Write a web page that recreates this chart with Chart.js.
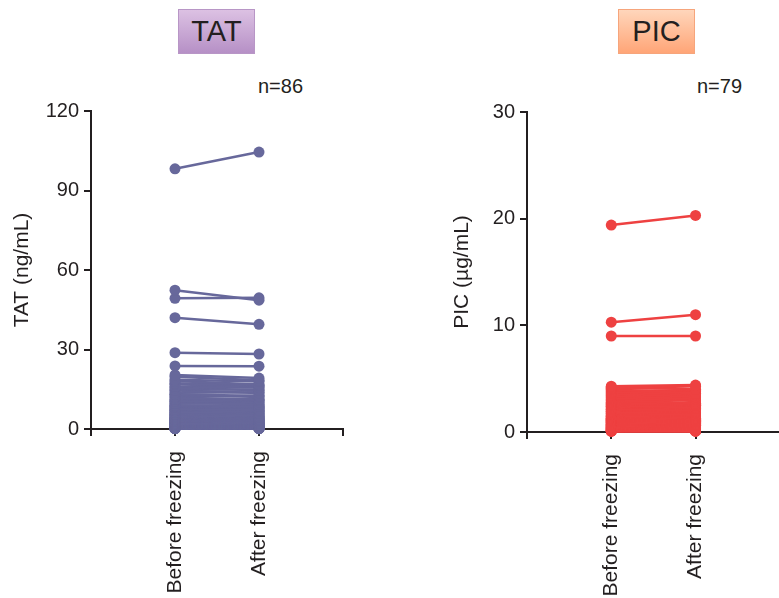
<!DOCTYPE html>
<html>
<head>
<meta charset="utf-8">
<script src="https://cdn.jsdelivr.net/npm/chart.js@4"></script>
<style>
  body { margin: 0; background: #fff; }
  #wrap { position: relative; width: 779px; height: 598px; overflow: hidden; font-family: 'Liberation Sans', Arial, sans-serif; color: #231f20; }
  canvas { position: absolute; top: 0; }
  .box { position: absolute; top: 9px; width: 77px; height: 45px; box-sizing: border-box; font-size: 29px; line-height: 43px; text-align: center; }
  #tatBox { left: 178px; background: linear-gradient(#dcc1e3, #b690c6); border: 1px solid #b896c6; }
  #picBox { left: 618px; background: linear-gradient(#ffd6bb, #ffa577); border: 1px solid #f6a57c; }
  .n { position: absolute; top: 75px; font-size: 20px; }
</style>
</head>
<body>
<div id="wrap">
  <div class="box" id="tatBox">TAT</div>
  <div class="box" id="picBox">PIC</div>
  <div class="n" style="left:258px">n=86</div>
  <div class="n" style="left:697px">n=79</div>
  <canvas id="tatChart" width="389" height="598" style="left:0"></canvas>
  <canvas id="picChart" width="420" height="598" style="left:400px"></canvas>
</div>
<script>
const groups = ['Before freezing', 'After freezing'];

// TAT (ng/mL), 86 pairs
const tatBefore = [
  98.2, 52.4, 49.3, 42.0, 28.8, 23.8, 20.4, 19.7, 18.6, 18.1,
  17.3, 16.9, 16.0, 15.6, 14.8, 14.5, 13.7, 13.1, 12.9, 12.2,
  11.8, 11.1, 10.7, 10.5, 9.8, 9.6, 9.0, 8.7, 8.5, 8.1,
  7.6, 7.5, 7.0, 6.9, 6.4, 6.3, 5.8, 5.6, 5.5, 5.1,
  4.9, 4.6, 4.4, 4.2, 4.0, 3.8, 3.6, 3.5, 3.3, 3.1,
  3.0, 2.8, 2.7, 2.5, 2.4, 2.3, 2.1, 2.0, 1.9, 1.8,
  1.7, 1.6, 1.5, 1.4, 1.3, 1.2, 1.1, 1.0, 0.9, 0.9,
  0.8, 0.7, 0.7, 0.6, 0.5, 0.5, 0.4, 0.4, 0.3, 0.3,
  0.2, 0.2, 0.2, 0.1, 0.1, 0.1
];
const tatAfter = [
  104.5, 48.6, 49.5, 39.5, 28.3, 23.7, 19.2, 18.4, 17.9, 16.8,
  16.5, 15.9, 15.7, 14.6, 14.9, 13.6, 13.9, 12.5, 12.1, 12.6,
  11.2, 10.9, 10.2, 10.8, 9.3, 9.9, 8.6, 8.9, 8.0, 8.3,
  7.2, 7.8, 6.8, 7.1, 6.1, 6.6, 5.9, 5.3, 5.7, 4.8,
  5.0, 4.3, 4.7, 3.9, 4.1, 3.6, 3.9, 3.2, 3.4, 2.9,
  3.2, 2.6, 2.9, 2.3, 2.6, 2.1, 2.2, 1.8, 2.0, 1.6,
  1.9, 1.4, 1.6, 1.2, 1.4, 1.0, 1.2, 0.9, 1.0, 0.8,
  0.9, 0.6, 0.8, 0.5, 0.6, 0.4, 0.5, 0.3, 0.4, 0.2,
  0.3, 0.2, 0.3, 0.1, 0.2, 0.1
];
const tatTicks = [0, 30, 60, 90, 120];

// PIC (µg/mL), 79 pairs
const picBefore = [
  19.4, 10.3, 9.0, 4.3, 4.2, 4.1, 4.0, 3.9, 3.8, 3.7,
  3.6, 3.5, 3.4, 3.3, 3.2, 3.1, 3.0, 2.9, 2.8, 2.7,
  2.6, 2.5, 2.4, 2.4, 2.3, 2.2, 2.1, 2.1, 2.0, 1.9,
  1.9, 1.8, 1.7, 1.7, 1.6, 1.5, 1.5, 1.4, 1.4, 1.3,
  1.3, 1.2, 1.2, 1.1, 1.1, 1.0, 1.0, 0.9, 0.9, 0.9,
  0.8, 0.8, 0.7, 0.7, 0.7, 0.6, 0.6, 0.6, 0.5, 0.5,
  0.5, 0.4, 0.4, 0.4, 0.3, 0.3, 0.3, 0.3, 0.2, 0.2,
  0.2, 0.2, 0.1, 0.1, 0.1, 0.1, 0.1, 0.1, 0.05
];
const picAfter = [
  20.3, 11.0, 9.0, 4.4, 4.0, 4.3, 3.6, 3.9, 3.5, 3.8,
  3.3, 3.6, 3.1, 3.4, 2.9, 3.2, 2.7, 3.0, 2.6, 2.5,
  2.7, 2.3, 2.5, 2.2, 2.4, 2.0, 2.2, 1.9, 2.1, 1.8,
  2.0, 1.6, 1.8, 1.5, 1.7, 1.4, 1.6, 1.3, 1.5, 1.2,
  1.4, 1.1, 1.3, 1.0, 1.2, 0.9, 1.1, 0.8, 1.0, 0.9,
  0.9, 0.7, 0.8, 0.6, 0.8, 0.5, 0.7, 0.6, 0.6, 0.4,
  0.6, 0.3, 0.5, 0.4, 0.4, 0.2, 0.3, 0.3, 0.2, 0.1,
  0.3, 0.1, 0.2, 0.1, 0.2, 0.05, 0.1, 0.1, 0.1
];
const picTicks = [0, 10, 20, 30];

Chart.defaults.font.family = "'Liberation Sans', Arial, sans-serif";
Chart.defaults.color = '#231f20';

const ink = '#231f20';

function pairSets(before, after, color) {
    return before.map((b, i) => ({
        data: [{x: 1, y: b}, {x: 2, y: after[i]}],
        borderColor: color,
        backgroundColor: color,
        borderWidth: 2.5,
        pointRadius: 5.5,
        pointBorderWidth: 0,
        clip: false,
    }));
}

function makeChart(id, before, after, color, ticks, yTitle, o) {
    const ctx = document.getElementById(id).getContext('2d');
    return new Chart(ctx, {
        type: 'line',
        data: { datasets: pairSets(before, after, color) },
        options: {
            responsive: false,
            animation: false,
            layout: { autoPadding: false, padding: { top: o.top, right: o.right, bottom: 0, left: 0 } },
            plugins: { legend: { display: false }, tooltip: { enabled: false } },
            scales: {
                x: {
                    type: 'linear',
                    min: 0,
                    max: 3,
                    afterBuildTicks: s => { s.ticks = [0, 1, 2, 3].map(v => ({value: v})); },
                    afterFit: s => { s.height = o.xh; },
                    ticks: {
                        autoSkip: false,
                        minRotation: 90,
                        maxRotation: 90,
                        padding: 15,
                        font: { size: 21 },
                        callback: v => groups[v - 1] || '',
                    },
                    grid: { drawOnChartArea: false, tickLength: 7, color: ink, lineWidth: 2 },
                    border: { color: ink, width: 2 },
                },
                y: {
                    min: ticks[0],
                    max: ticks[ticks.length - 1],
                    afterBuildTicks: s => { s.ticks = ticks.map(v => ({value: v})); },
                    afterFit: s => { s.width = o.yw; },
                    ticks: { padding: 5, font: { size: 20 } },
                    grid: { drawOnChartArea: false, tickLength: 7, color: ink, lineWidth: 2 },
                    border: { color: ink, width: 2 },
                    title: { display: true, text: yTitle, font: { size: 21 }, padding: { top: o.tp, bottom: 0 } },
                },
            },
        },
    });
}

makeChart('tatChart', tatBefore, tatAfter, '#67689b', tatTicks, 'TAT (ng/mL)',
    { top: 111, right: 46, xh: 169, yw: 91, tp: 10 });
makeChart('picChart', picBefore, picAfter, '#ee4141', picTicks, 'PIC (µg/mL)',
    { top: 112, right: 0, xh: 166, yw: 127, tp: 50 });
</script>
</body>
</html>
